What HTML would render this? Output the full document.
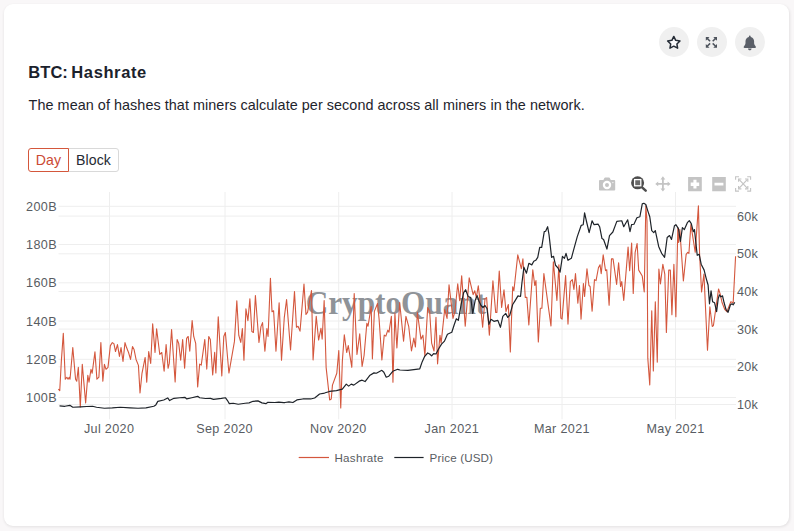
<!DOCTYPE html>
<html><head><meta charset="utf-8">
<style>
*{box-sizing:border-box;margin:0;padding:0}
html,body{width:794px;height:531px;overflow:hidden}
body{background:#f9f7f8;font-family:"Liberation Sans",sans-serif;position:relative}
.card{position:absolute;left:4px;top:4px;width:785px;height:522px;background:#fff;border-radius:9px;box-shadow:0.5px 1px 3px rgba(0,0,0,.09)}
.title{position:absolute;left:28.300px;top:61.900px;font-size:16.5px;font-weight:700;color:#1b222c;letter-spacing:0.26px;white-space:nowrap;line-height:20px}
.desc{position:absolute;left:28.600px;top:95.800px;font-size:14.4px;color:#1e242c;white-space:nowrap;line-height:18px;letter-spacing:0.05px}
.btn{position:absolute;top:148px;height:24px;font-size:14.1px;line-height:22.600px;letter-spacing:0.100px;text-align:center;border:1px solid #d9d9d9;background:#fff;color:#262b33}
.b1{left:28px;width:41px;border-color:#d4573b;color:#cb4a33;border-radius:3px 0 0 3px;z-index:2}
.b2{left:68px;width:51px;border-radius:0 3px 3px 0}
.circ{position:absolute;top:27px;width:30px;height:30px;border-radius:50%;background:#f0f0f0}
svg{position:absolute;left:0;top:0}
.tk{font-family:"Liberation Sans",sans-serif;font-size:12.6px;fill:#585c62;letter-spacing:0.35px}
.lg{font-family:"Liberation Sans",sans-serif;font-size:11.6px;fill:#585c62;letter-spacing:0.3px}
.wm{font-family:"Liberation Serif",serif;font-size:34px;font-weight:700;fill:#8f9398}
</style></head><body>
<div class="card"></div>
<div class="title" style="letter-spacing:0.050px">BTC:</div><div class="title" style="left:71.300px;letter-spacing:0.62px">Hashrate</div>
<div class="desc">The mean of hashes that miners calculate per second across all miners in the network.</div>
<div class="btn b1">Day</div><div class="btn b2">Block</div>
<div class="circ" style="left:659px"></div><div class="circ" style="left:697px"></div><div class="circ" style="left:735px"></div>
<svg width="794" height="531" viewBox="0 0 794 531">
<!-- top icons -->
<g id="icons-top">
<path d="M673.80 36.45L675.71 40.32L679.98 40.94L676.89 43.95L677.62 48.21L673.80 46.20L669.98 48.21L670.71 43.95L667.62 40.94L671.89 40.32z" fill="#fbfbfd" stroke="#252c36" stroke-width="1.500" stroke-linejoin="round"/>
<g fill="#4d535c" stroke="#4d535c" stroke-width="1.500" stroke-linecap="butt"><path d="M705.800 37h3.700l-3.700 3.700z" stroke="none"/><path d="M707.200 38.400l2.900 2.900" fill="none"/><path d="M717 37v3.700l-3.700-3.700z" stroke="none"/><path d="M715.600 38.400l-2.900 2.900" fill="none"/><path d="M705.800 47.700v-3.700l3.700 3.700z" stroke="none"/><path d="M707.200 46.300l2.900-2.900" fill="none"/><path d="M717 47.700h-3.700l3.700-3.700z" stroke="none"/><path d="M715.600 46.300l-2.900-2.900" fill="none"/></g>
<path d="M749.8 35.6c.5 0 .9.4.9.9v.4c2 .4 3.4 2.200 3.400 4.300v1.600c0 1.200.5 2.400 1.300 3.300l.3.300c.3.300.3.700.2 1s-.5.500-.9.500h-10.400c-.4 0-.7-.2-.9-.5s-.1-.7.200-1l.3-.3c.8-.9 1.300-2.100 1.300-3.300v-1.600c0-2.100 1.500-3.900 3.400-4.300v-.4c0-.5.400-.9.900-.9zm1.800 12.900c0 1-.8 1.800-1.800 1.800s-1.800-.8-1.800-1.800z" fill="#5a5f68"/>
</g>
<!-- modebar -->
<g id="modebar">
<g fill="#c4c4c4">
<path d="M600.100 180h3.300l1-2.100c.1-.3.400-.5.700-.5h4c.3 0 .6.200.7.500l1 2.100h3.300c.6 0 1.100.5 1.100 1.100v8.400c0 .6-.5 1.100-1.100 1.100h-14c-.6 0-1.100-.5-1.100-1.100v-8.400c0-.6.500-1.100 1.100-1.100zM607 180.800a4.200 4.200 0 1 0 0 8.400a4.200 4.200 0 1 0 0-8.400zM607 183a2 2 0 1 1 0 4a2 2 0 1 1 0-4zM612.900 181.900a.65.65 0 1 0 0 1.300a.65.65 0 1 0 0-1.300z" fill-rule="evenodd"/>
<path d="M662.900 176.300l2.400 3.100h-1.500v3.600h3.800v-1.500l3 2.400-3 2.400v-1.500h-3.800v3.600h1.500l-2.400 3.100-2.400-3.100h1.500v-3.600h-3.800v1.500l-3-2.400 3-2.400v1.500h3.800v-3.600h-1.500z"/>
<path d="M688.100 177h13.700v14.200h-13.700zm5.300 2.700v2.700h-2.700v3.500h2.700v2.700h3.100v-2.700h2.700v-3.500h-2.700v-2.700z" fill-rule="evenodd"/>
<path d="M712.200 177h13.600v14.200h-13.600zm2.300 5.800v2.700h8.900v-2.700z" fill-rule="evenodd"/>
</g>
<g fill="none" stroke="#c4c4c4" stroke-width="1.100">
<path d="M735.600 179.800v-3.100h3.400M747.200 176.700h3.400v3.100M750.600 188v3.100h-3.400M739 191.100h-3.400v-3.100"/>
<path d="M739.200 179.600l8 8.600M747.200 179.600l-8 8.600" stroke-width="1.200"/>
<path d="M738.600 181.800v-2.800h2.800M745 179h2.800v2.800M747.800 186v2.800h-2.800M741.400 188.800h-2.800v-2.800" stroke-width="1.200"/>
</g>
<circle cx="637.600" cy="182.800" r="6.500" fill="#4e4e4e"/>
<path d="M641.800 187.100l3.900 3.600" stroke="#4e4e4e" stroke-width="2.500" stroke-linecap="round" fill="none"/>
<rect x="634.600" y="179.600" width="6.200" height="6.200" fill="#6a6a6a" stroke="#fff" stroke-width="1.300"/>
</g>
<!-- grid -->
<g stroke="#eeeeee" stroke-width="1">
<path d="M58.5 206.3H736"/>
<path d="M58.5 244.5H736"/>
<path d="M58.5 282.8H736"/>
<path d="M58.5 321.0H736"/>
<path d="M58.5 359.3H736"/>
<path d="M58.5 397.5H736"/>
<path d="M58.5 216.1H736"/>
<path d="M58.5 253.8H736"/>
<path d="M58.5 291.5H736"/>
<path d="M58.5 329.1H736"/>
<path d="M58.5 366.8H736"/>
<path d="M58.5 404.5H736"/>
<path d="M109.5 192V419.300"/>
<path d="M225.0 192V419.300"/>
<path d="M338.7 192V419.300"/>
<path d="M452.0 192V419.300"/>
<path d="M562.0 192V419.300"/>
<path d="M675.5 192V419.300"/>
</g>
<!-- watermark -->
<text class="wm" x="305.700" y="313.500" textLength="180.500" lengthAdjust="spacingAndGlyphs">CryptoQuant</text>
<!-- lines -->
<path d="M58.36,389.08L59.74,390.66L61.33,361.4L63.3,333.33L65.28,379.2L66.86,377.22L68.05,379.2L69.23,377.22L70.03,379.2L72.79,347.56L75.56,379.2L76.75,381.17L78.33,367.33L80.31,406.88L82.28,364.37L85.64,402.92L87.82,375.24L89.01,382.16L90.98,369.31L92.17,373.27L94.94,351.91L96.91,379.2L98.89,377.22L100.87,342.62L102.84,381.17L104.43,364.37L106.01,369.31L107.99,367.33L110.36,345.59L112.33,342.62L113.92,343.61L115.5,351.52L117.48,344.6L119.45,356.46L121.03,347.56L123.01,361.4L124.99,342.62L126.57,347.56L128.55,352.51L130.52,359.43L132.5,346.58L134.08,349.54L136.06,359.43L138.43,365.36L140.01,393.04L141.99,373.27L145.15,357.45L146.74,382.16L148.71,351.52L150.69,363.38L152.67,323.84L155.04,352.51L156.62,328.78L159.78,354.48L161.76,352.51L164.13,371.29L166.11,344.6L168.09,368.32L169.27,363.38L171.58,329.54L175.14,381.93L177.12,339.43L178.7,343.38L180.68,360.19L182.65,339.43L184.63,368.09L186.61,338.44L188.19,336.46L189.77,351.29L192.14,320.64L193.72,336.46L195.7,343.38L197.68,386.88L199.66,364.14L201.24,365.13L204.8,339.43L206.77,369.08L208.75,336.46L210.33,339.43L212.7,375.01L214.68,352.28L215.87,373.04L218.24,316.69L221.8,376.0L223.78,336.46L225.36,332.51L228.92,373.04L234.45,341.4L236.82,300.87L238.8,335.47L240.78,342.39L242.36,328.55L243.94,360.19L245.92,308.78L247.9,320.64L249.87,298.9L251.85,331.52L253.43,332.51L255.41,295.54L258.97,342.39L260.95,326.58L262.53,322.62L264.9,351.29L266.88,328.55L268.06,336.46L270.43,278.34L272.02,311.75L273.6,310.76L275.97,351.29L279.13,302.85L281.51,360.19L284.27,317.68L286.58,299.54L290.54,349.96L294.49,291.63L296.47,327.22L298.05,326.23L300.03,331.17L303.98,284.12L305.96,314.37L307.54,312.39L311.49,290.64L313.07,359.84L316.24,316.35L318.61,340.07L320.98,328.21L322.17,339.08L324.15,300.53L326.12,367.33L329.68,399.96L331.26,398.97L332.45,385.13L336.8,373.27L338.78,350.53L340.75,407.86L342.33,361.4L344.31,334.71L346.68,352.51L348.27,345.59L351.82,367.33L354.2,293.61L356.97,354.5L359.73,333.74L362.11,366.37L364.08,355.49L366.85,323.27L368.04,326.23L371.2,306.46L372.39,358.85L374.36,311.4L376.34,306.46L377.53,303.5L379.11,319.31L381.88,359.84L384.25,335.13L385.83,336.12L387.81,330.19L388.99,332.16L391.37,316.35L392.95,382.16L394.92,313.38L396.9,347.98L399.67,302.51L403.56,341.12L405.93,316.4L408.7,326.29L411.47,351.0L413.84,338.15L415.42,347.05L417.4,312.45L420.96,339.14L422.93,335.19L424.91,355.95L427.68,307.51L429.66,311.46L431.63,343.09L434.01,351.0L435.98,317.39L437.56,363.85L439.94,335.19L441.12,343.09L444.68,309.48L447.05,318.38L449.03,284.77L452.99,318.38L454.96,311.46L457.73,283.78L459.71,300.59L461.68,275.87L465.24,326.29L469.2,277.85L473.15,294.66L474.73,290.7L476.31,297.62L478.29,285.76L480.66,306.52L482.64,327.28L485.01,298.61L486.6,297.62L489.36,335.19L492.92,280.82L495.69,312.45L496.88,312.45L499.25,270.93L501.62,307.51L503.99,289.71L505.97,311.46L508.34,304.54L510.32,351.99L512.69,286.75L513.88,290.7L517.77,254.89L521.33,268.72L522.91,258.84L525.28,297.39L526.86,297.39L528.84,325.07L532.79,269.71L534.77,285.53L535.96,280.59L538.33,341.88L540.31,308.27L541.89,308.27L543.87,273.67L550.98,326.06L553.36,261.81L556.91,300.36L558.89,264.77L560.87,318.15L562.05,319.14L565.61,275.64L567.99,324.08L570.36,281.58L572.33,279.6L573.92,289.48L575.5,273.67L577.87,303.32L579.45,285.53L581.03,319.14L583.41,283.55L584.59,296.4L586.97,268.72L588.94,285.53L590.13,286.52L592.11,311.23L594.48,279.6L596.06,280.59L598.43,267.74L600.01,264.77L601.2,273.67L603.18,254.89L605.55,270.7L606.74,269.71L609.11,305.3L611.48,258.84L613.06,258.84L616.62,284.54L618.6,262.79L620.58,286.52L621.76,281.58L623.74,300.36L628.09,246.98L629.67,270.7L631.65,243.02L633.23,293.44L635.14,252.33L637.12,243.44L638.7,270.13L642.26,276.06L644.23,291.88L645.82,205.87L647.0,220.7L647.79,358.15L649.77,384.84L651.75,310.7L653.33,371.0L655.31,301.81L657.28,362.11L658.87,269.14L660.45,283.97L662.82,264.2L664.8,274.08L666.38,332.45L668.75,270.13L670.33,270.13L671.91,314.66L673.89,264.2L675.87,316.63L677.84,227.62L678.64,242.45L679.82,229.6L683.38,281.0L686.15,254.31L687.73,252.33L688.92,253.32L690.89,224.66L695.24,252.33L698.41,205.87L699.59,254.31L701.57,291.88L703.94,274.08L707.5,350.24L709.87,306.75L712.25,326.52L713.43,325.53L718.57,288.95L720.15,293.9L722.13,302.79L724.9,309.71L726.88,311.69L730.83,301.81L733.2,302.79L735.58,256.29" fill="none" stroke="#d4573d" stroke-width="1.100" stroke-linejoin="round"/>
<path d="M59.55,405.89L64.89,406.28L69.83,405.29L72.79,407.27L80.7,406.88L86.63,406.48L92.56,406.28L96.52,407.27L104.43,408.26L112.33,407.86L120.24,407.27L130.13,407.86L138.04,408.26L145.95,407.86L153.85,406.28L155.83,404.9L157.81,401.34L163.74,399.96L167.69,397.98L169.67,400.55L170.0,400.3L173.95,398.32L179.89,397.73L184.83,397.33L186.81,398.92L191.75,397.73L197.68,396.35L199.66,397.73L205.59,398.52L210.53,398.32L213.5,399.31L221.4,398.32L225.36,397.73L227.33,400.3L229.31,403.66L233.27,403.27L238.21,404.25L245.13,403.27L249.08,402.87L253.04,401.29L257.98,400.89L261.93,402.87L265.89,403.66L267.86,402.28L274.78,402.48L278.74,402.08L283.68,402.67L285.0,402.53L288.95,401.93L292.91,402.53L296.86,399.96L302.79,398.97L310.7,398.97L314.66,397.98L319.6,394.03L324.54,393.04L329.48,391.46L336.4,390.66L342.33,389.08L346.29,384.14L348.66,386.12L351.23,384.14L353.8,385.13L359.14,381.17L362.11,380.19L365.07,381.57L370.01,375.24L373.97,372.87L376.34,373.27L381.88,370.3L383.85,372.28L386.23,377.22L388.8,376.23L392.75,371.29L397.69,369.31L400.0,369.98L407.91,370.38L419.77,368.8L422.14,361.88L424.71,356.34L427.68,352.98L429.66,353.97L431.63,355.95L433.61,353.57L435.98,353.97L438.55,349.03L441.52,344.08L444.48,341.12L447.45,334.2L451.8,332.22L454.37,324.31L456.35,318.78L458.32,320.36L461.29,303.55L463.66,292.68L465.64,289.71L468.21,296.63L470.78,297.62L472.76,313.44L475.13,300.59L477.11,295.64L479.08,301.58L481.06,305.53L483.04,307.51L485.01,305.53L486.99,308.5L488.97,324.31L490.95,319.37L493.91,321.35L497.86,320.36L500.43,327.28L502.81,316.4L505.77,313.44L507.75,317.39L509.73,315.42L512.69,304.54L515.0,300.83L517.97,295.89L520.54,296.48L521.92,283.04L523.9,267.22L526.47,273.15L528.84,263.27L531.81,264.85L533.78,261.29L535.76,260.3L537.74,257.33L539.71,247.45L541.69,247.45L544.26,231.63L545.64,231.24L547.62,226.69L549.01,234.6L551.58,257.33L553.55,256.35L555.53,265.24L558.1,268.21L560.08,272.16L562.45,256.35L564.43,258.32L566.01,253.38L567.99,260.3L571.35,258.32L574.31,247.45L577.28,236.58L581.23,225.31L583.21,224.71L584.59,212.85L586.57,221.75L589.14,232.62L592.11,220.76L594.08,224.71L598.04,224.12L599.62,226.69L601.99,238.55L603.57,239.54L606.93,249.03L609.5,235.59L612.86,232.03L616.82,221.35L621.76,220.76L623.74,226.69L627.69,219.77L630.0,231.58L631.58,224.66L633.95,224.26L636.92,217.74L639.89,216.75L642.26,203.9L643.84,203.3L645.82,204.49L647.79,210.82L649.77,216.75L651.75,230.59L653.72,232.56L655.31,230.59L658.67,246.4L661.63,253.32L664.6,257.28L667.17,237.51L669.54,235.53L671.52,239.48L674.48,225.64L675.87,224.66L678.44,228.61L680.42,241.46L682.39,227.62L684.37,229.6L687.33,222.68L689.31,220.7L691.29,223.67L693.27,231.58L694.45,229.6L697.22,255.3L699.2,254.31L701.17,264.2L704.14,270.13L706.12,278.04L707.5,282.98L708.09,285.0L709.48,303.78L711.06,290.93L712.64,301.81L714.62,302.79L716.6,311.69L718.18,298.84L719.36,294.89L720.95,296.86L722.53,295.87L724.11,302.79L726.09,309.71L728.06,312.28L730.43,304.77L732.02,303.78L733.2,304.77L734.78,302.4" fill="none" stroke="#1e2329" stroke-width="1.200" stroke-linejoin="round"/>
<!-- ticks -->
<g class="tk" text-anchor="end">
<text x="56.900" y="210.9">200B</text><text x="56.900" y="249.1">180B</text><text x="56.900" y="287.4">160B</text><text x="56.900" y="325.6">140B</text><text x="56.900" y="363.9">120B</text><text x="56.900" y="402.1">100B</text>
</g>
<g class="tk" text-anchor="start">
<text x="736.900" y="220.7">60k</text><text x="736.900" y="258.4">50k</text><text x="736.900" y="296.1">40k</text><text x="736.900" y="333.7">30k</text><text x="736.900" y="371.4">20k</text><text x="736.900" y="409.1">10k</text>
</g>
<g class="tk" text-anchor="middle">
<text x="109.1" y="432.800">Jul 2020</text><text x="224.6" y="432.800">Sep 2020</text><text x="338.3" y="432.800">Nov 2020</text><text x="451.9" y="432.800">Jan 2021</text><text x="561.9" y="432.800">Mar 2021</text><text x="675.5" y="432.800">May 2021</text>
</g>
<!-- legend -->
<path d="M298.700 457.500h30.300" stroke="#d4573d" stroke-width="1.200"/>
<path d="M394.300 457.500h29.300" stroke="#1e2329" stroke-width="1.200"/>
<text class="lg" x="334.400" y="461.500">Hashrate</text>
<text class="lg" x="429.600" y="461.500" style="letter-spacing:0.15px">Price (USD)</text>
</svg>
</body></html>
